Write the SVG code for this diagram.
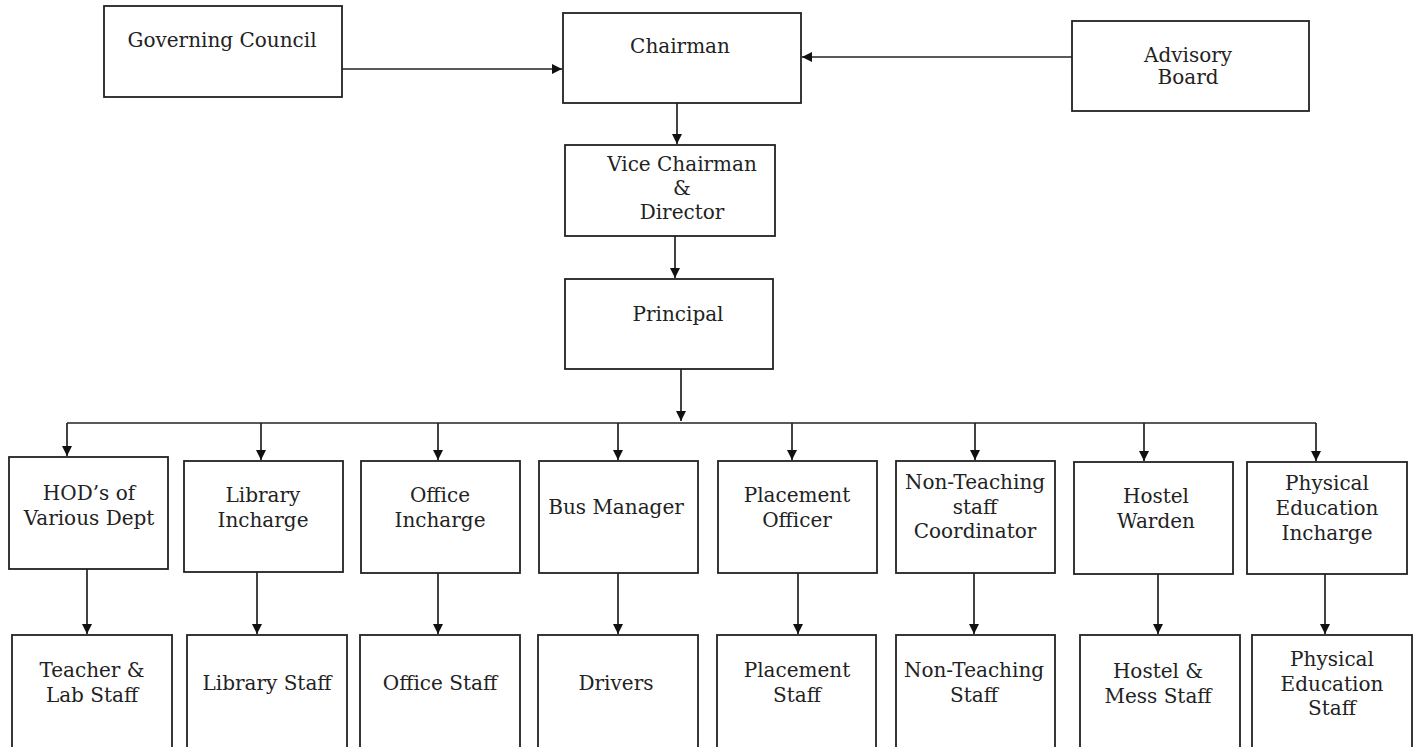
<svg xmlns="http://www.w3.org/2000/svg" width="1416" height="747" viewBox="0 0 1416 747">
<defs>
<style>
.box{fill:#fff;stroke:#222;stroke-width:1.8}
.t{font-family:"DejaVu Serif","Liberation Serif",serif;font-size:20px;fill:#222;text-anchor:middle}
.c{fill:none;stroke:#222;stroke-width:1.7}
</style>
<marker id="ah" viewBox="0 0 10 10" refX="10" refY="5" markerWidth="11" markerHeight="10" markerUnits="userSpaceOnUse" orient="auto">
<path d="M0,0 L10,5 L0,10 z" fill="#111"/>
</marker>
</defs>
<rect width="1416" height="747" fill="#fff"/>

<g id="connectors">
<path class="c" d="M342,69 H562" marker-end="url(#ah)"/>
<path class="c" d="M1072,57 H802" marker-end="url(#ah)"/>
<path class="c" d="M677,103 V144" marker-end="url(#ah)"/>
<path class="c" d="M675,236 V278" marker-end="url(#ah)"/>
<path class="c" d="M681,369 V421" marker-end="url(#ah)"/>
<path class="c" d="M67,423 H1316"/>
<path class="c" d="M67,423 V456" marker-end="url(#ah)"/>
<path class="c" d="M261,423 V460" marker-end="url(#ah)"/>
<path class="c" d="M438,423 V460" marker-end="url(#ah)"/>
<path class="c" d="M618,423 V460" marker-end="url(#ah)"/>
<path class="c" d="M792,423 V460" marker-end="url(#ah)"/>
<path class="c" d="M975,423 V460" marker-end="url(#ah)"/>
<path class="c" d="M1144,423 V461" marker-end="url(#ah)"/>
<path class="c" d="M1316,423 V461" marker-end="url(#ah)"/>
<path class="c" d="M87,569 V634" marker-end="url(#ah)"/>
<path class="c" d="M257,572 V634" marker-end="url(#ah)"/>
<path class="c" d="M438,573 V634" marker-end="url(#ah)"/>
<path class="c" d="M618,573 V634" marker-end="url(#ah)"/>
<path class="c" d="M798,573 V634" marker-end="url(#ah)"/>
<path class="c" d="M974,573 V634" marker-end="url(#ah)"/>
<path class="c" d="M1158,574 V634" marker-end="url(#ah)"/>
<path class="c" d="M1325,574 V634" marker-end="url(#ah)"/>
</g>

<g id="governing-council"><rect class="box" x="104" y="6" width="238" height="91"/><text class="t" x="222" y="47">Governing Council</text></g>
<g id="chairman"><rect class="box" x="563" y="13" width="238" height="90"/><text class="t" x="680" y="53">Chairman</text></g>
<g id="advisory-board"><rect class="box" x="1072" y="21" width="237" height="90"/><text class="t" x="1188" y="62">Advisory</text><text class="t" x="1188" y="84">Board</text></g>
<g id="vice-chairman"><rect class="box" x="565" y="145" width="210" height="91"/><text class="t" x="682" y="171">Vice Chairman</text><text class="t" x="682" y="195">&amp;</text><text class="t" x="682" y="219">Director</text></g>
<g id="principal"><rect class="box" x="565" y="279" width="208" height="90"/><text class="t" x="678" y="321">Principal</text></g>

<g id="hod"><rect class="box" x="9" y="457" width="159" height="112"/><text class="t" x="89" y="500">HOD’s of</text><text class="t" x="89" y="525">Various Dept</text></g>
<g id="library-incharge"><rect class="box" x="184" y="461" width="159" height="111"/><text class="t" x="263" y="502">Library</text><text class="t" x="263" y="527">Incharge</text></g>
<g id="office-incharge"><rect class="box" x="361" y="461" width="159" height="112"/><text class="t" x="440" y="502">Office</text><text class="t" x="440" y="527">Incharge</text></g>
<g id="bus-manager"><rect class="box" x="539" y="461" width="159" height="112"/><text class="t" x="616" y="514">Bus Manager</text></g>
<g id="placement-officer"><rect class="box" x="718" y="461" width="159" height="112"/><text class="t" x="797" y="502">Placement</text><text class="t" x="797" y="527">Officer</text></g>
<g id="non-teaching-coordinator"><rect class="box" x="896" y="461" width="159" height="112"/><text class="t" x="975" y="489">Non-Teaching</text><text class="t" x="975" y="514">staff</text><text class="t" x="975" y="538">Coordinator</text></g>
<g id="hostel-warden"><rect class="box" x="1074" y="462" width="159" height="112"/><text class="t" x="1156" y="503">Hostel</text><text class="t" x="1156" y="528">Warden</text></g>
<g id="pe-incharge"><rect class="box" x="1247" y="462" width="160" height="112"/><text class="t" x="1327" y="490">Physical</text><text class="t" x="1327" y="515">Education</text><text class="t" x="1327" y="540">Incharge</text></g>

<g id="teacher-lab-staff"><rect class="box" x="12" y="635" width="160" height="120"/><text class="t" x="92" y="677">Teacher &amp;</text><text class="t" x="92" y="702">Lab Staff</text></g>
<g id="library-staff"><rect class="box" x="187" y="635" width="160" height="120"/><text class="t" x="267" y="690">Library Staff</text></g>
<g id="office-staff"><rect class="box" x="360" y="635" width="160" height="120"/><text class="t" x="440" y="690">Office Staff</text></g>
<g id="drivers"><rect class="box" x="538" y="635" width="160" height="120"/><text class="t" x="616" y="690">Drivers</text></g>
<g id="placement-staff"><rect class="box" x="717" y="635" width="159" height="120"/><text class="t" x="797" y="677">Placement</text><text class="t" x="797" y="702">Staff</text></g>
<g id="non-teaching-staff"><rect class="box" x="896" y="635" width="159" height="120"/><text class="t" x="974" y="677">Non-Teaching</text><text class="t" x="974" y="702">Staff</text></g>
<g id="hostel-mess-staff"><rect class="box" x="1080" y="635" width="160" height="120"/><text class="t" x="1158" y="678">Hostel &amp;</text><text class="t" x="1158" y="703">Mess Staff</text></g>
<g id="pe-staff"><rect class="box" x="1252" y="635" width="160" height="120"/><text class="t" x="1332" y="666">Physical</text><text class="t" x="1332" y="691">Education</text><text class="t" x="1332" y="715">Staff</text></g>
</svg>
